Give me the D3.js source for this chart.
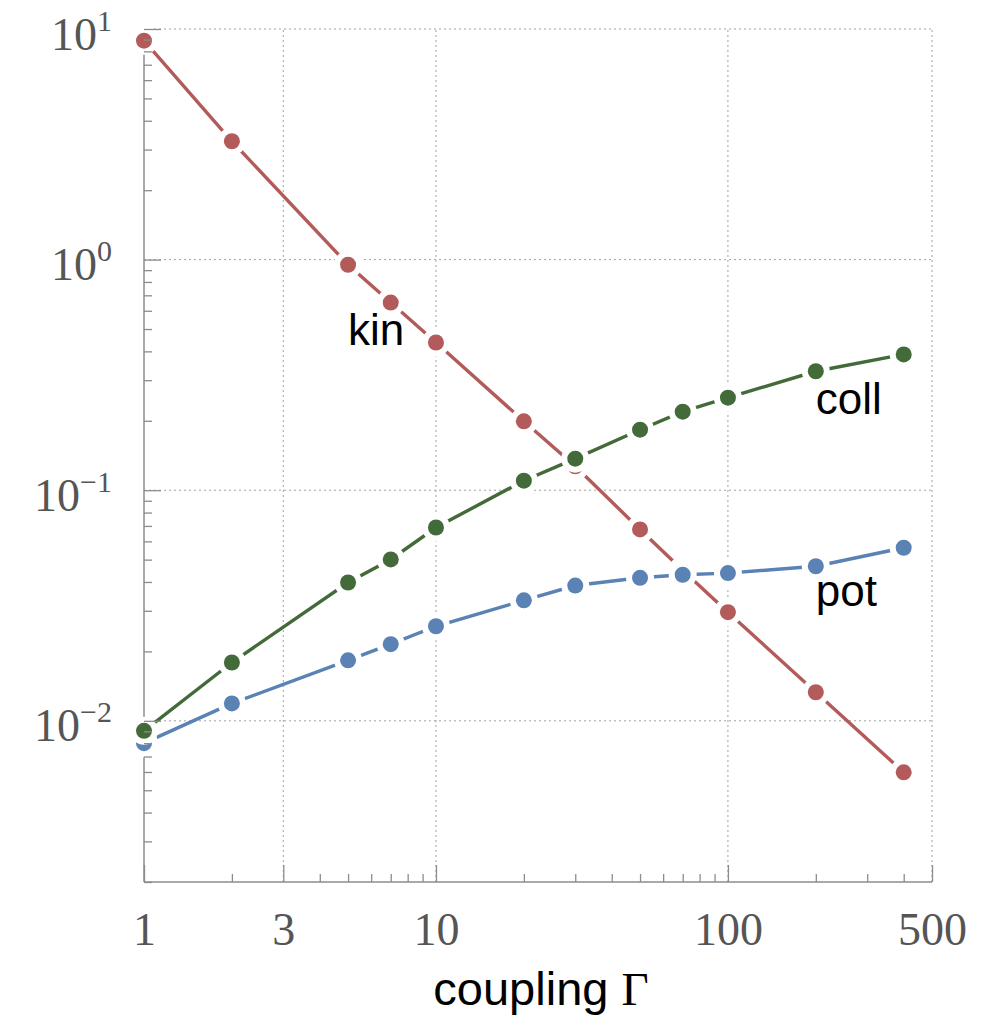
<!DOCTYPE html>
<html>
<head>
<meta charset="utf-8">
<script src="https://cdn.jsdelivr.net/npm/d3@7"></script>
<style>
  body { margin: 0; background: #fff; }
  .tick text { font-family: "Liberation Serif", serif; fill: #555; font-size: 46px; }
  .tick line { stroke: #8c8c8c; stroke-width: 1.3; }
  .grid line { stroke: #a0a0a0; stroke-width: 1; stroke-dasharray: 2,3; }
  .lbl { font-family: "Liberation Sans", Arial, sans-serif; font-size: 44px; fill: #000; }
</style>
</head>
<body>
<div id="chart"></div>
<script>
// coupling values
const gammas = [1, 2, 5, 7, 10, 20, 30, 50, 70, 100, 200, 400];

// series
const kin  = [8.9, 3.26, 0.95, 0.651, 0.437, 0.199, 0.127, 0.0676, 0.045, 0.0296, 0.0133, 0.00598];
const pot  = [0.0080, 0.0119, 0.0183, 0.0215, 0.0257, 0.0333, 0.0386, 0.0417, 0.0430, 0.0437, 0.0468, 0.0563];
const coll = [0.00905, 0.0179, 0.0398, 0.0501, 0.0689, 0.110, 0.137, 0.183, 0.219, 0.252, 0.328, 0.388];

const xTicks = [1, 3, 10, 100, 500];
const xMinor = [2, 4, 5, 6, 7, 8, 9, 20, 30, 40, 50, 60, 70, 80, 90, 200, 300, 400];
const yTicks = [0.01, 0.1, 1, 10];
const yExps = ["−2", "−1", "0", "1"];
const yMinor = [].concat(...[0.001, 0.01, 0.1, 1].map(d => d3.range(2, 10).map(k => +(k * d).toPrecision(3))))
  .filter(v => v >= 0.002);

const seriesLabels = [
  { name: "kin",  g: 5,   v: 0.428 },
  { name: "coll", g: 200, v: 0.215 },
  { name: "pot",  g: 200, v: 0.0316 }
];

// drawing order: red first, then blue, then green on top
const series = [
  { key: "kin",  values: kin,  color: "#b35a5a" },
  { key: "pot",  values: pot,  color: "#5a82b4" },
  { key: "coll", values: coll, color: "#436b39" }
];

const width = 987, height = 1017;
const margin = { top: 29, right: 55, bottom: 135, left: 144 };

const x = d3.scaleLog().domain([1, 500]).range([margin.left, width - margin.right]);
const y = d3.scaleLog().domain([0.002, 10]).range([height - margin.bottom, margin.top]);

const svg = d3.select("#chart").append("svg")
    .attr("width", width)
    .attr("height", height);

// grid
const grid = svg.append("g").attr("class", "grid");
grid.selectAll(".gx")
    .data(xTicks.slice(1))
  .enter().append("line")
    .attr("x1", d => x(d)).attr("x2", d => x(d))
    .attr("y1", y.range()[0]).attr("y2", y.range()[1]);
grid.selectAll(".gy")
    .data(yTicks)
  .enter().append("line")
    .attr("x1", x.range()[0]).attr("x2", x.range()[1])
    .attr("y1", d => y(d)).attr("y2", d => y(d));

// axis lines (under the data so the marker halos cut them)
svg.append("line")
    .attr("x1", x.range()[0]).attr("x2", x.range()[1])
    .attr("y1", y.range()[0]).attr("y2", y.range()[0])
    .attr("stroke", "#8c8c8c").attr("stroke-width", 1.5);
svg.append("line")
    .attr("x1", x.range()[0]).attr("x2", x.range()[0])
    .attr("y1", y.range()[0]).attr("y2", y.range()[1])
    .attr("stroke", "#8c8c8c").attr("stroke-width", 1.5);

// data
const line = d3.line()
    .x((d, i) => x(gammas[i]))
    .y(d => y(d));

series.forEach(s => {
  const g = svg.append("g");
  g.append("path")
      .attr("d", line(s.values))
      .attr("fill", "none")
      .attr("stroke", s.color)
      .attr("stroke-width", 3.4);
  g.selectAll(".halo")
      .data(s.values)
    .enter().append("circle")
      .attr("cx", (d, i) => x(gammas[i]))
      .attr("cy", d => y(d))
      .attr("r", 14)
      .attr("fill", "#fff");
  g.selectAll(".dot")
      .data(s.values)
    .enter().append("circle")
      .attr("cx", (d, i) => x(gammas[i]))
      .attr("cy", d => y(d))
      .attr("r", 8)
      .attr("fill", s.color);
});

// ticks on top
const xAxis = svg.append("g")
    .attr("transform", "translate(0," + y.range()[0] + ")")
    .call(d3.axisBottom(x).tickValues(xTicks).tickSize(-17).tickFormat(d3.format("d")));
xAxis.select(".domain").remove();
xAxis.selectAll("text").attr("y", 63).attr("dy", 0);

const xAxisMinor = svg.append("g")
    .attr("transform", "translate(0," + y.range()[0] + ")")
    .call(d3.axisBottom(x).tickValues(xMinor).tickSize(-8).tickFormat(""));
xAxisMinor.select(".domain").remove();

const yAxis = svg.append("g")
    .attr("transform", "translate(" + x.range()[0] + ",0)")
    .call(d3.axisLeft(y).tickValues(yTicks).tickSize(-17).tickPadding(32).tickFormat(""));
yAxis.select(".domain").remove();
yAxis.selectAll(".tick text")
    .attr("y", 20).attr("dy", 0)
    .each(function(d, i) {
      const t = d3.select(this);
      t.append("tspan").text("10");
      t.append("tspan").attr("dy", -19).attr("font-size", "30px").text(yExps[i]);
    });

const yAxisMinor = svg.append("g")
    .attr("transform", "translate(" + x.range()[0] + ",0)")
    .call(d3.axisLeft(y).tickValues(yMinor).tickSize(-8).tickFormat(""));
yAxisMinor.select(".domain").remove();

// series labels
svg.selectAll(".series-label")
    .data(seriesLabels)
  .enter().append("text")
    .attr("class", "lbl")
    .attr("x", d => x(d.g))
    .attr("y", d => y(d.v))
    .text(d => d.name);

// axis title
const title = svg.append("text")
    .attr("class", "lbl")
    .attr("x", (x.range()[0] + x.range()[1]) / 2 + 3)
    .attr("y", 1005)
    .attr("text-anchor", "middle")
    .style("font-size", "47px");
title.append("tspan").text("coupling ");
title.append("tspan").style("font-family", "'Liberation Serif', serif").text("Γ");
</script>
</body>
</html>
